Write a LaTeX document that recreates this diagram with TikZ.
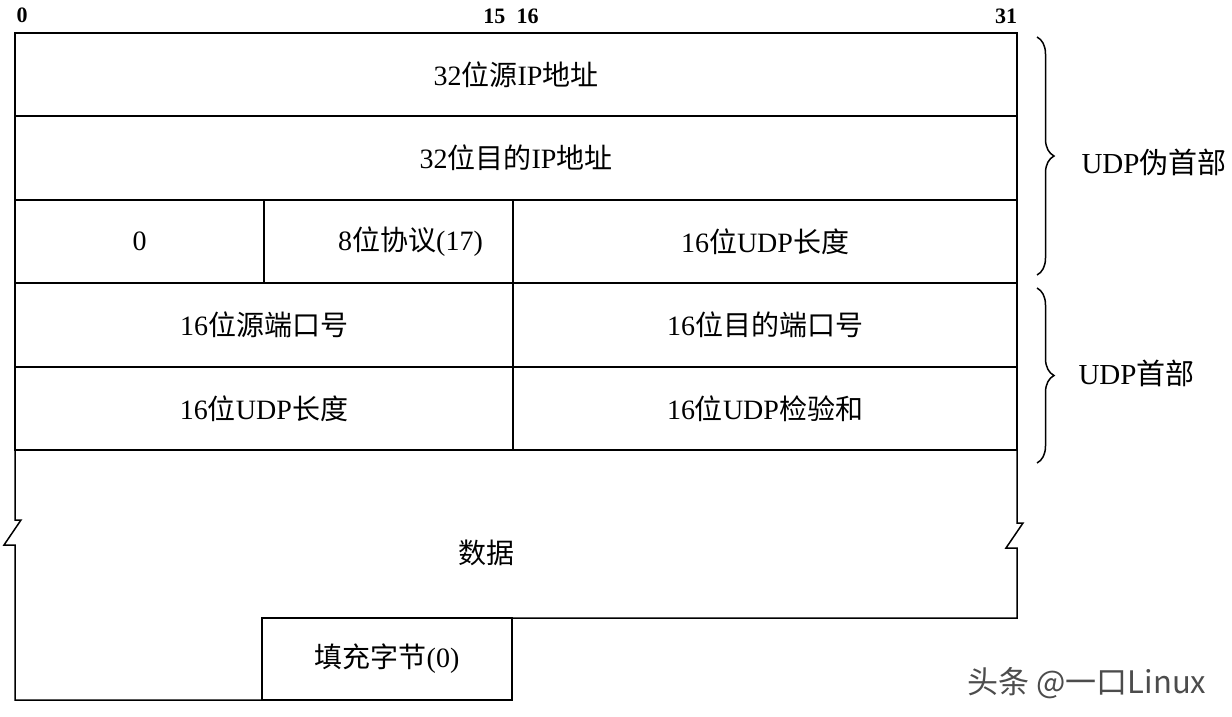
\documentclass[tikz,border=0pt]{standalone}
\usepackage{fontspec}
\setmainfont{Liberation Serif}
\newfontfamily\cjk{Noto Sans CJK SC}
\usetikzlibrary{positioning}
\usetikzlibrary{decorations.pathreplacing}
\newcommand{\zh}[1]{{\cjk #1}}
\tikzset{
  field/.style={draw, line width=1.5pt, inner sep=0pt, font=\fontsize{28}{32}\selectfont},
  bitno/.style={font=\fontsize{22}{26}\selectfont\bfseries},
  hdrbrace/.style={decorate, decoration={brace, amplitude=17pt}, line width=1.5pt},
  side/.style={anchor=west, font=\fontsize{29}{34}\selectfont},
}

\begin{document}
\begin{tikzpicture}[x=1pt, y=-1pt]
\useasboundingbox (0,0) rectangle (1232,716);
% bit numbers
\node[bitno] (bit0) at (22,15) {0};
\node[bitno, anchor=east] (bit15) at (509,16) {15};
\node[bitno, anchor=west] (bit16) at (513,16) {16};
\node[bitno] (bit31) at (1006,16) {31};
% pseudo header
\node[field, minimum width=1002pt, minimum height=83pt] (srcip) at (516,74.5) {32\zh{位源}IP\zh{地址}};
\node[field, minimum width=1002pt, minimum height=84pt] (dstip) at (516,158) {32\zh{位目的}IP\zh{地址}};
\node[field, minimum width=249pt, minimum height=83pt] (zero) at (139.5,241.5) {0};
\node[field, minimum width=249pt, minimum height=83pt] (proto) at (388.5,241.5) {\hspace{44pt}8\zh{位协议}(17)};
\node[field, minimum width=504pt, minimum height=83pt] (plen) at (765,241.5) {16\zh{位}UDP\zh{长度}\hspace{34pt}};
% udp header
\node[field, minimum width=498pt, minimum height=84pt] (srcport) at (264,325) {16\zh{位源端口号}};
\node[field, minimum width=504pt, minimum height=84pt] (dstport) at (765,325) {16\zh{位目的端口号}\hspace{32pt}};
\node[field, minimum width=498pt, minimum height=83pt] (ulen) at (264,408.5) {16\zh{位}UDP\zh{长度}};
\node[field, minimum width=504pt, minimum height=83pt] (csum) at (765,408.5) {16\zh{位}UDP\zh{检验和}\hspace{32pt}};
% data with breaks
\draw[line width=1.5pt] (15,450) -- (15,520) -- (21,520) -- (4,545) -- (15,545) -- (15,700)
  -- (512,700) -- (512,618) -- (1017,618) -- (1017,548) -- (1006,548) -- (1023,523)
  -- (1017,523) -- (1017,450);
\node[font=\fontsize{28}{32}\selectfont] (data) at (486,553) {\zh{数据}};
\node[field, minimum width=250pt, minimum height=82pt] (pad) at (387,659) {\zh{填充字节}(0)};
% braces
\draw[hdrbrace] (1037,37) -- (1037,275);
\draw[hdrbrace] (1037,288) -- (1037,463);
\node[side] (pseudo) at (1078,162) {UDP\zh{伪首部}};
\node[side] (udphdr) at (1075,373) {UDP\zh{首部}};
% watermark
\node[font=\cjk\fontsize{31}{36}\selectfont, text=black!70] (mark) at (1087,683) {头条 @一口Linux};
\end{tikzpicture}
\end{document}
